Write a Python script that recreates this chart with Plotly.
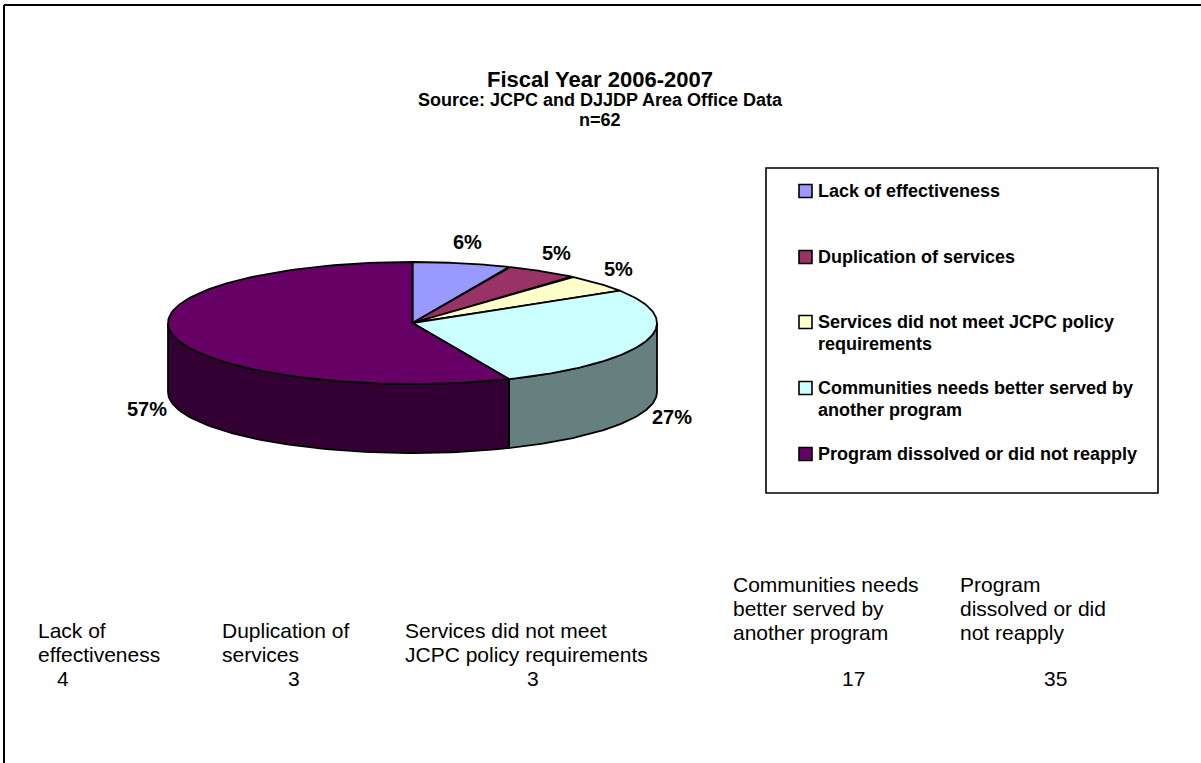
import numpy as np
import plotly.graph_objects as go

categories = ["Lack of effectiveness", "Duplication of services",
              "Services did not meet JCPC policy requirements",
              "Communities needs better served by another program",
              "Program dissolved or did not reapply"]
counts = [4, 3, 3, 17, 35]
pct_labels = ["6%", "5%", "5%", "27%", "57%"]
top_colors = ["#9999FF", "#993366", "#FFFFCC", "#CCFFFF", "#660066"]
side_colors = ["#4D4D80", "#4D1A33", "#808066", "#668080", "#330033"]
legend_lines = [["Lack of effectiveness"], ["Duplication of services"],
                ["Services did not meet JCPC policy", "requirements"],
                ["Communities needs better served by", "another program"],
                ["Program dissolved or did not reapply"]]
table_lines = [["Lack of", "effectiveness"], ["Duplication of", "services"],
               ["Services did not meet", "JCPC policy requirements"],
               ["Communities needs", "better served by", "another program"],
               ["Program", "dissolved or did", "not reapply"]]

W, H = 1201, 763
FONT = "Arial, Liberation Sans, sans-serif"
cx, cy, rx, ry, depth = 412.5, 323.0, 244.5, 61.0, 69.0

total = sum(counts)
cum = np.concatenate([[0], np.cumsum(counts)]) / total * 360.0


def pt(theta_deg, dy=0.0):
    t = np.radians(theta_deg)
    return cx + rx * np.sin(t), cy - ry * np.cos(t) + dy


fig = go.Figure()

# side walls (visible front half: 90..270 degrees)
for i in range(len(counts)):
    a, b = max(cum[i], 90.0), min(cum[i + 1], 270.0)
    if b <= a:
        continue
    th = np.linspace(a, b, 80)
    xt, yt = pt(th)
    xb, yb = pt(th[::-1], depth)
    fig.add_trace(go.Scatter(x=np.concatenate([xt, xb, [xt[0]]]),
                             y=np.concatenate([yt, yb, [yt[0]]]),
                             mode="lines", fill="toself", fillcolor=side_colors[i],
                             line=dict(color="black", width=1.8),
                             hoverinfo="skip", showlegend=False))

# top faces
for i in range(len(counts)):
    th = np.linspace(cum[i], cum[i + 1], 120)
    xa, ya = pt(th)
    fig.add_trace(go.Scatter(x=np.concatenate([[cx], xa, [cx]]),
                             y=np.concatenate([[cy], ya, [cy]]),
                             mode="lines", fill="toself", fillcolor=top_colors[i],
                             line=dict(color="black", width=1.8),
                             name=categories[i], showlegend=False,
                             hovertemplate=categories[i] + ": %{text}<extra></extra>",
                             text=[counts[i]] * 122))

# percentage labels
for i in range(len(counts)):
    mid = (cum[i] + cum[i + 1]) / 2
    t = np.radians(mid)
    lx = cx + (rx + 27) * np.sin(t)
    ly = cy - (ry + 22) * np.cos(t) + (depth if np.cos(t) < 0 else 0)
    fig.add_annotation(x=lx, y=ly, xref="x", yref="y", showarrow=False,
                       text="<b>%s</b>" % pct_labels[i],
                       font=dict(family=FONT, size=20, color="black"))

shapes = []
# frame
shapes.append(dict(type="line", xref="paper", yref="paper", x0=4 / W, x1=1, y0=1 - 5 / H, y1=1 - 5 / H,
                   line=dict(color="black", width=2)))
shapes.append(dict(type="line", xref="paper", yref="paper", x0=4 / W, x1=4 / W, y0=0, y1=1 - 5 / H,
                   line=dict(color="black", width=2)))
# legend box
shapes.append(dict(type="rect", xref="x", yref="y", x0=766, x1=1158, y0=168, y1=493,
                   line=dict(color="black", width=1.6), fillcolor="white", layer="below"))
legend_y = [191, 257, 322, 388, 454]
for i in range(len(categories)):
    y0 = legend_y[i]
    shapes.append(dict(type="rect", xref="x", yref="y", x0=799, x1=812, y0=y0 - 6.5, y1=y0 + 6.5,
                       fillcolor=top_colors[i], line=dict(color="black", width=1.6)))
    for j, line in enumerate(legend_lines[i]):
        fig.add_annotation(x=816, y=y0 + j * 21.5, xref="x", yref="y", xanchor="left",
                           showarrow=False, text="<b>%s</b>" % line,
                           font=dict(family=FONT, size=18, color="black"))

# data table
col_x = [36, 220, 403, 731, 958]
val_x = [63, 294, 533, 853, 1055]
line_y2 = [630, 654]
line_y3 = [584, 608, 632]
for i in range(len(categories)):
    lines = table_lines[i]
    ys = line_y2 if len(lines) == 2 else line_y3
    for j, line in enumerate(lines):
        fig.add_annotation(x=col_x[i], y=ys[j], xref="x", yref="y",
                           xanchor="left", showarrow=False, text=line,
                           font=dict(family=FONT, size=21, color="black"))
    fig.add_annotation(x=val_x[i], y=678, xref="x", yref="y", showarrow=False,
                       text=str(counts[i]), font=dict(family=FONT, size=21, color="black"))

# titles
fig.add_annotation(x=600, y=79, xref="x", yref="y", showarrow=False,
                   text="<b>Fiscal Year 2006-2007</b>", font=dict(family=FONT, size=22, color="black"))
fig.add_annotation(x=600, y=100, xref="x", yref="y", showarrow=False,
                   text="<b>Source: JCPC and DJJDP Area Office Data</b>",
                   font=dict(family=FONT, size=18, color="black"))
fig.add_annotation(x=600, y=120, xref="x", yref="y", showarrow=False,
                   text="<b>n=62</b>", font=dict(family=FONT, size=18, color="black"))

fig.update_layout(width=W, height=H, margin=dict(l=0, r=0, t=0, b=0),
                  paper_bgcolor="white", plot_bgcolor="white", shapes=shapes,
                  xaxis=dict(range=[0, W], visible=False, fixedrange=True),
                  yaxis=dict(range=[H, 0], visible=False, fixedrange=True),
                  showlegend=False)
fig.write_html("out.html")
